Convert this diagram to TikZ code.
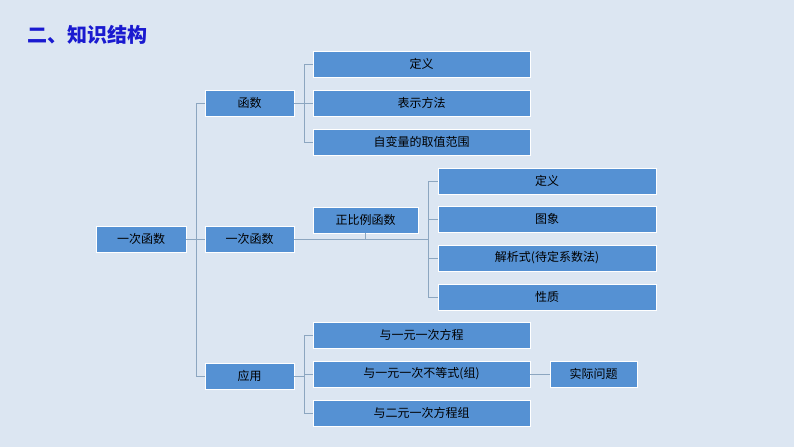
\documentclass[tikz,border=0pt]{standalone}
\usepackage{fontspec}
\setmainfont{Noto Sans CJK SC}
\definecolor{bgblue}{HTML}{DCE6F2}
\definecolor{boxblue}{HTML}{5591D3}
\definecolor{linkgray}{HTML}{8CA6C0}
\definecolor{titleblue}{HTML}{1A1AD0}
\begin{document}
\begin{tikzpicture}[
	x=1pt, y=-1pt,
	box/.style = {fill=boxblue, draw=white, line width=0.8pt, minimum height=26pt, inner sep=0pt, font=\fontsize{12}{14}\selectfont}, % blue box
	link/.style = {draw=linkgray, line width=1pt}
	]
	\fill[bgblue] (0,0) rectangle (794,447);
	\useasboundingbox (0,0) rectangle (794,447);
	\node[anchor=west, text=titleblue, font=\fontsize{20}{22}\bfseries\selectfont] (title) at (24,35) {二、知识结构};

	\node[box, minimum width=90pt] (root) at (141,239) {一次函数};
	\node[box, minimum width=89pt] (fn) at (249.5,103) {函数};
	\node[box, minimum width=89pt] (linfn) at (249.5,239) {一次函数};
	\node[box, minimum width=89pt] (app) at (249.5,376) {应用};

	\node[box, minimum width=217pt] (def1) at (421.5,64) {定义};
	\node[box, minimum width=217pt] (repr) at (421.5,103) {表示方法};
	\node[box, minimum width=217pt] (domain) at (421.5,142) {自变量的取值范围};

	\node[box, minimum width=105pt] (prop) at (365.5,220) {正比例函数};
	\node[box, minimum width=218pt] (def2) at (547,181) {定义};
	\node[box, minimum width=218pt] (graph) at (547,219) {图象};
	\node[box, minimum width=218pt] (formula) at (547,258) {解析式(待定系数法)};
	\node[box, minimum width=218pt] (nature) at (547,297) {性质};

	\node[box, minimum width=217pt] (eq) at (421.5,335) {与一元一次方程};
	\node[box, minimum width=217pt] (ineq) at (421.5,374) {与一元一次不等式(组)};
	\node[box, minimum width=87pt] (real) at (593.5,374) {实际问题};
	\node[box, minimum width=217pt] (sys) at (421.5,413) {与二元一次方程组};

	% root to second level
	\draw[link] (root.east) -- (196,239);
	\draw[link] (fn.west) -| (196,376) -- (app.west);
	\draw[link] (196,239) -- (linfn.west);
	% function branch
	\draw[link] (fn.east) -- (304,103);
	\draw[link] (def1.west) -| (304,142) -- (domain.west);
	\draw[link] (304,103) -- (repr.west);
	% linear function branch
	\draw[link] (linfn.east) -- (428,239);
	\draw[link] (prop.south) -- (365.5,239);
	\draw[link] (def2.west) -| (428,297) -- (nature.west);
	\draw[link] (428,219) -- (graph.west);
	\draw[link] (428,258) -- (formula.west);
	% application branch
	\draw[link] (app.east) -- (304,376);
	\draw[link] (eq.west) -| (304,413) -- (sys.west);
	\draw[link] (304,374) -- (ineq.west);
	\draw[link] (ineq.east) -- (real.west);
\end{tikzpicture}
\end{document}
